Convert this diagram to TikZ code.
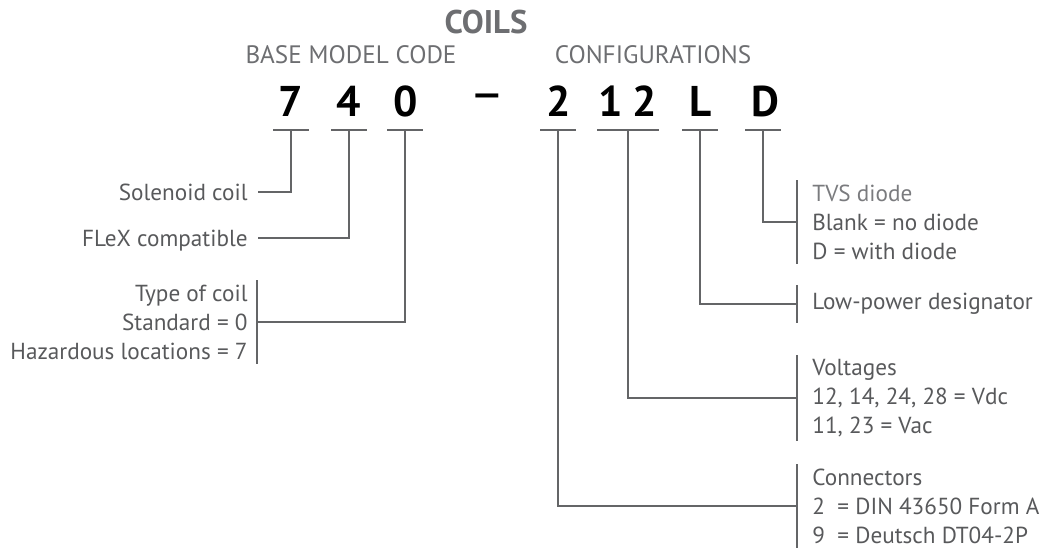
\documentclass[tikz,border=0pt]{standalone}
\usepackage{fontspec}
\setmainfont{PT Sans}

\definecolor{txtgray}{HTML}{58595B}
\definecolor{headgray}{HTML}{6D6E71}
\definecolor{tvsgray}{HTML}{7A7B7E}
\definecolor{linegray}{HTML}{646567}

\tikzset{
    title/.style={font=\fontsize{16.4}{18}\selectfont\bfseries, text=headgray, anchor=base, inner sep=0pt},
    head/.style={font=\fontsize{12.6}{14}\selectfont, text=headgray, anchor=base, inner sep=0pt},
    code/.style={font=\fontsize{21.5}{24}\selectfont\bfseries, text=black, anchor=base, inner sep=0pt},
    lbl/.style={font=\fontsize{11.6}{14.5}\selectfont, text=txtgray},
    side/.style={lbl, anchor=east, inner xsep=5pt, inner ysep=0pt, text depth=0pt},
    grp/.style={lbl, align=left, anchor=west, inner xsep=7.5pt, inner ysep=2pt},
    lead/.style={draw=linegray, line width=1.1pt}
}

\begin{document}
\begin{tikzpicture}[x=0.5pt, y=-0.5pt]
    \useasboundingbox (0,0) rectangle (1041,552);

    % Headings
    \node[title] (coils) at (486,33) {COILS};
    \node[head] (basecode) at (351,63) {BASE MODEL CODE};
    \node[head] (configs) at (653,63) {CONFIGURATIONS};

    % Model code
    \node[code] (d7) at (291,116) {7};
    \node[code] (d4) at (349,116) {4};
    \node[code] (d0) at (406,116) {0};
    \node[code, font=\fontsize{27}{28}\selectfont] (dash) at (487,111) {\textendash};
    \node[code] (c2) at (559,116) {2};
    \node[code] (c1) at (611,116) {1};
    \node[code] (c2b) at (645,116) {2};
    \node[code] (cL) at (701,116) {L};
    \node[code] (cD) at (765,116) {D};

    % Underlines
    \coordinate (t7) at (291,130);
    \coordinate (t4) at (349,130);
    \coordinate (t0) at (405,130);
    \coordinate (t2) at (558,130);
    \coordinate (t12) at (628,130);
    \coordinate (tL) at (700,130);
    \coordinate (tD) at (763,130);
    \foreach \c/\w in {t7/18, t4/18, t0/18, t2/18, t12/31, tL/18, tD/18}
        \draw[lead] (\c) +(-\w,0) -- +(\w,0);

    % Base model code
    \node[side] (solenoid) at (258,192) {Solenoid coil};
    \node[side] (flex) at (258,238) {FLeX compatible};
    \node[lbl, anchor=east, align=right, inner xsep=4.5pt, inner ysep=2pt] (coiltype) at (257,322)
        {Type of coil\\Standard = 0\\Hazardous locations = 7};
    \draw[lead] (coiltype.north east) -- (coiltype.south east);

    \draw[lead] (t7) |- (solenoid);
    \draw[lead] (t4) |- (flex);
    \draw[lead] (t0) |- (coiltype);

    % Configurations
    \node[grp] (tvs) at (797,222)
        {\textcolor{tvsgray}{TVS diode}\\Blank = no diode\\D = with diode};
    \node[grp, inner ysep=4pt] (lowpower) at (797,304) {Low-power designator};
    \node[grp] (voltages) at (797,398)
        {Voltages\\12, 14, 24, 28 = Vdc\\11, 23 = Vac};
    \node[grp] (connectors) at (797,506)
        {Connectors\\2\ \ = DIN 43650 Form A\\9\ \ = Deutsch DT04-2P};
    \foreach \g in {tvs, lowpower, voltages, connectors}
        \draw[lead] (\g.north west) -- (\g.south west);

    \draw[lead] (tD) |- (tvs);
    \draw[lead] (tL) |- (lowpower);
    \draw[lead] (t12) |- (voltages);
    \draw[lead] (t2) |- (connectors);
\end{tikzpicture}
\end{document}
